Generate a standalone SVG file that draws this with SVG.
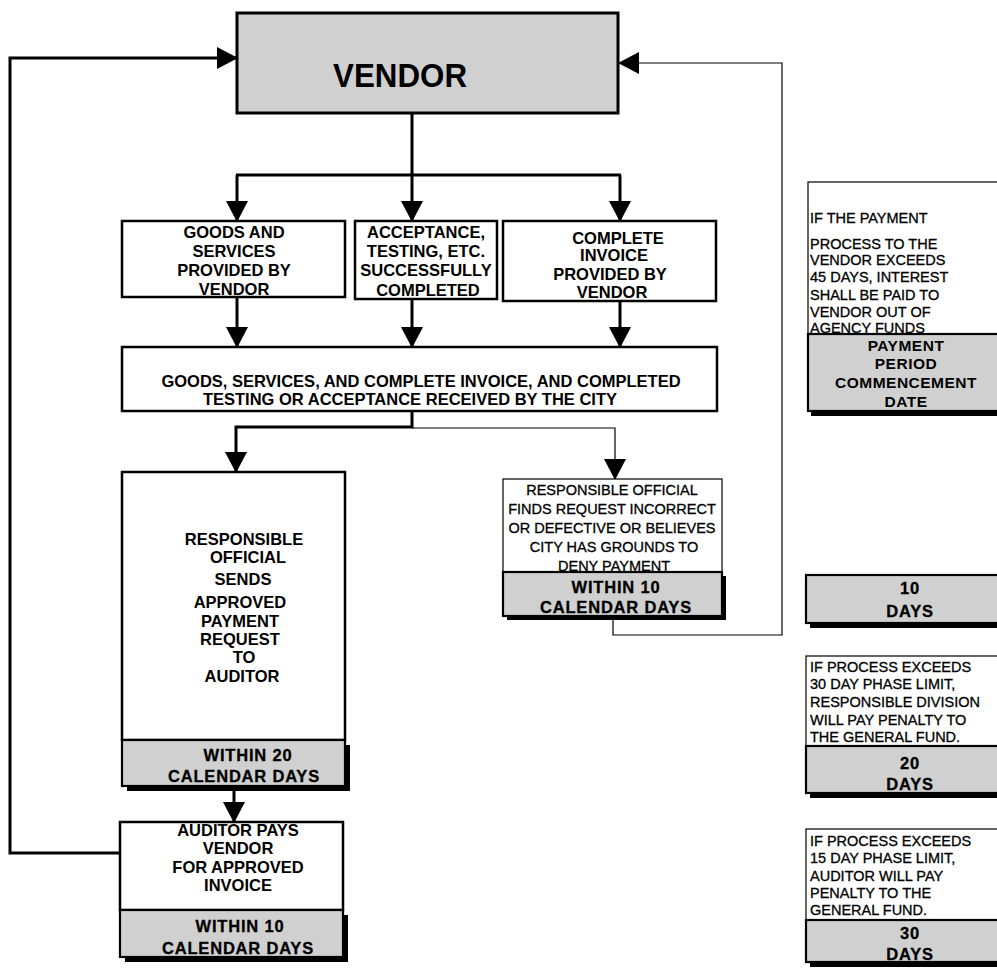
<svg xmlns="http://www.w3.org/2000/svg" width="997" height="970" viewBox="0 0 997 970">
<defs>
<marker id="ah" markerUnits="userSpaceOnUse" markerWidth="22" markerHeight="22" refX="20" refY="11" orient="auto" viewBox="0 0 21 22"><path d="M0,0 L21,11 L0,22 z" fill="#000"/></marker>
<style>
.box{fill:#fff;stroke:#000;stroke-width:2.5}
.thin{fill:#fff;stroke:#000;stroke-width:1.2}
.gray{fill:#d0d0d0;stroke:#000;stroke-width:2.2}
.shadow{fill:#000}
.t{font-family:"Liberation Sans",Arial,sans-serif;font-weight:bold;font-size:16.5px;text-anchor:middle;fill:#000}
.g{font-family:"Liberation Sans",Arial,sans-serif;font-weight:bold;font-size:16.5px;text-anchor:middle;fill:#000;letter-spacing:0.8px;stroke:#000;stroke-width:0.3}
.p{font-family:"Liberation Sans",Arial,sans-serif;font-weight:bold;font-size:15.5px;text-anchor:middle;fill:#000;letter-spacing:0.5px}
.r{font-family:"Liberation Sans",Arial,sans-serif;font-size:14.5px;fill:#000;stroke:#000;stroke-width:0.3}
.rc{font-family:"Liberation Sans",Arial,sans-serif;font-size:14.5px;fill:#000;stroke:#000;stroke-width:0.3;text-anchor:middle}
.c{fill:none;stroke:#000;stroke-width:3}
.cthin{fill:none;stroke:#000;stroke-width:1.2}
</style>
</defs>
<rect width="997" height="970" fill="#fff"/>

<g id="connectors">
<path class="c" d="M120,853 H10 V58 H237" marker-end="url(#ah)"/>
<path class="cthin" d="M613,616 V635 H782 V63 H619" marker-end="url(#ah)"/>
<path class="c" d="M412,113 V175 M236,175 H621"/>
<path class="c" d="M237,175 V221" marker-end="url(#ah)"/>
<path class="c" d="M412,175 V221" marker-end="url(#ah)"/>
<path class="c" d="M620,175 V221" marker-end="url(#ah)"/>
<path class="c" d="M237,297 V347" marker-end="url(#ah)"/>
<path class="c" d="M412,299 V347" marker-end="url(#ah)"/>
<path class="c" d="M620,301 V347" marker-end="url(#ah)"/>
<path class="c" d="M412,411 V427 H236 V472" marker-end="url(#ah)"/>
<path class="cthin" d="M412,428 H615 V479" marker-end="url(#ah)"/>
<path class="c" d="M234,788 V822" marker-end="url(#ah)"/>
</g>

<g id="vendor">
<rect class="gray" x="237" y="13" width="381" height="100" style="stroke-width:3"/>
<text class="t" x="400" y="87" style="font-size:33px" textLength="134" lengthAdjust="spacingAndGlyphs">VENDOR</text>
</g>

<g id="goods">
<rect class="box" x="122" y="221" width="223" height="76"/>
<text class="t" x="234" y="238">GOODS AND</text>
<text class="t" x="234" y="257">SERVICES</text>
<text class="t" x="234" y="276">PROVIDED BY</text>
<text class="t" x="234" y="295">VENDOR</text>
</g>

<g id="acceptance">
<rect class="box" x="355" y="221" width="142" height="78"/>
<text class="t" x="426" y="238">ACCEPTANCE,</text>
<text class="t" x="426" y="257">TESTING, ETC.</text>
<text class="t" x="426" y="276">SUCCESSFULLY</text>
<text class="t" x="428" y="296">COMPLETED</text>
</g>

<g id="invoice">
<rect class="box" x="503" y="221" width="213" height="80"/>
<text class="t" x="618" y="244">COMPLETE</text>
<text class="t" x="614" y="261">INVOICE</text>
<text class="t" x="610" y="280">PROVIDED BY</text>
<text class="t" x="612" y="298">VENDOR</text>
</g>

<g id="received">
<rect class="box" x="122" y="347" width="595" height="64"/>
<text class="t" x="421" y="387">GOODS, SERVICES, AND COMPLETE INVOICE, AND COMPLETED</text>
<text class="t" x="410" y="405">TESTING OR ACCEPTANCE RECEIVED BY THE CITY</text>
</g>

<g id="sends">
<rect class="box" x="122" y="472" width="223" height="268"/>
<rect class="shadow" x="127" y="745" width="223" height="46"/>
<rect class="gray" x="122" y="740" width="223" height="46"/>
<text class="t" x="244" y="545">RESPONSIBLE</text>
<text class="t" x="248" y="563">OFFICIAL</text>
<text class="t" x="243" y="585">SENDS</text>
<text class="t" x="240" y="608">APPROVED</text>
<text class="t" x="240" y="627">PAYMENT</text>
<text class="t" x="240" y="645">REQUEST</text>
<text class="t" x="244" y="663">TO</text>
<text class="t" x="242" y="682">AUDITOR</text>
<text class="g" x="248" y="761">WITHIN 20</text>
<text class="g" x="244" y="782">CALENDAR DAYS</text>
</g>

<g id="auditor">
<rect class="box" x="120" y="822" width="223" height="88"/>
<rect class="shadow" x="125" y="915" width="223" height="47"/>
<rect class="gray" x="120" y="910" width="223" height="47"/>
<text class="t" x="238" y="836">AUDITOR PAYS</text>
<text class="t" x="238" y="854">VENDOR</text>
<text class="t" x="238" y="873">FOR APPROVED</text>
<text class="t" x="238" y="891">INVOICE</text>
<text class="g" x="240" y="932">WITHIN 10</text>
<text class="g" x="238" y="954">CALENDAR DAYS</text>
</g>

<g id="deny">
<rect class="thin" x="503" y="479" width="219" height="93"/>
<rect class="shadow" x="507" y="576" width="219" height="44"/>
<rect class="gray" x="503" y="572" width="219" height="44"/>
<text class="rc" x="612" y="495">RESPONSIBLE OFFICIAL</text>
<text class="rc" x="612" y="514">FINDS REQUEST INCORRECT</text>
<text class="rc" x="612" y="533">OR DEFECTIVE OR BELIEVES</text>
<text class="rc" x="614" y="552">CITY HAS GROUNDS TO</text>
<text class="rc" x="614" y="571">DENY PAYMENT</text>
<text class="g" x="616" y="593">WITHIN 10</text>
<text class="g" x="616" y="613">CALENDAR DAYS</text>
</g>

<g id="interest">
<rect class="thin" x="808" y="182" width="200" height="152"/>
<rect class="shadow" x="811" y="338" width="200" height="78"/>
<rect class="gray" x="808" y="334" width="200" height="77"/>
<text class="r" x="810" y="223">IF THE PAYMENT</text>
<text class="r" x="810" y="249">PROCESS TO THE</text>
<text class="r" x="810" y="265">VENDOR EXCEEDS</text>
<text class="r" x="810" y="282">45 DAYS, INTEREST</text>
<text class="r" x="810" y="300">SHALL BE PAID TO</text>
<text class="r" x="810" y="317">VENDOR OUT OF</text>
<text class="r" x="810" y="333">AGENCY FUNDS</text>
<text class="p" x="906" y="351">PAYMENT</text>
<text class="p" x="906" y="369">PERIOD</text>
<text class="p" x="906" y="388">COMMENCEMENT</text>
<text class="p" x="906" y="407">DATE</text>
</g>

<g id="days10">
<rect class="shadow" x="810" y="579" width="200" height="49"/>
<rect class="gray" x="806" y="575" width="200" height="48"/>
<text class="g" x="910" y="594">10</text>
<text class="g" x="910" y="617">DAYS</text>
</g>

<g id="days20">
<rect class="thin" x="806" y="656" width="200" height="90"/>
<rect class="shadow" x="810" y="750" width="200" height="48"/>
<rect class="gray" x="806" y="746" width="200" height="47"/>
<text class="r" x="810" y="672">IF PROCESS EXCEEDS</text>
<text class="r" x="810" y="689">30 DAY PHASE LIMIT,</text>
<text class="r" x="810" y="707">RESPONSIBLE DIVISION</text>
<text class="r" x="810" y="725">WILL PAY PENALTY TO</text>
<text class="r" x="810" y="742">THE GENERAL FUND.</text>
<text class="g" x="910" y="769">20</text>
<text class="g" x="910" y="790">DAYS</text>
</g>

<g id="days30">
<rect class="thin" x="806" y="829" width="200" height="91"/>
<rect class="shadow" x="810" y="924" width="200" height="43"/>
<rect class="gray" x="806" y="920" width="200" height="42"/>
<text class="r" x="810" y="846">IF PROCESS EXCEEDS</text>
<text class="r" x="810" y="863">15 DAY PHASE LIMIT,</text>
<text class="r" x="810" y="881">AUDITOR WILL PAY</text>
<text class="r" x="810" y="898">PENALTY TO THE</text>
<text class="r" x="810" y="915">GENERAL FUND.</text>
<text class="g" x="910" y="939">30</text>
<text class="g" x="910" y="960">DAYS</text>
</g>
</svg>
